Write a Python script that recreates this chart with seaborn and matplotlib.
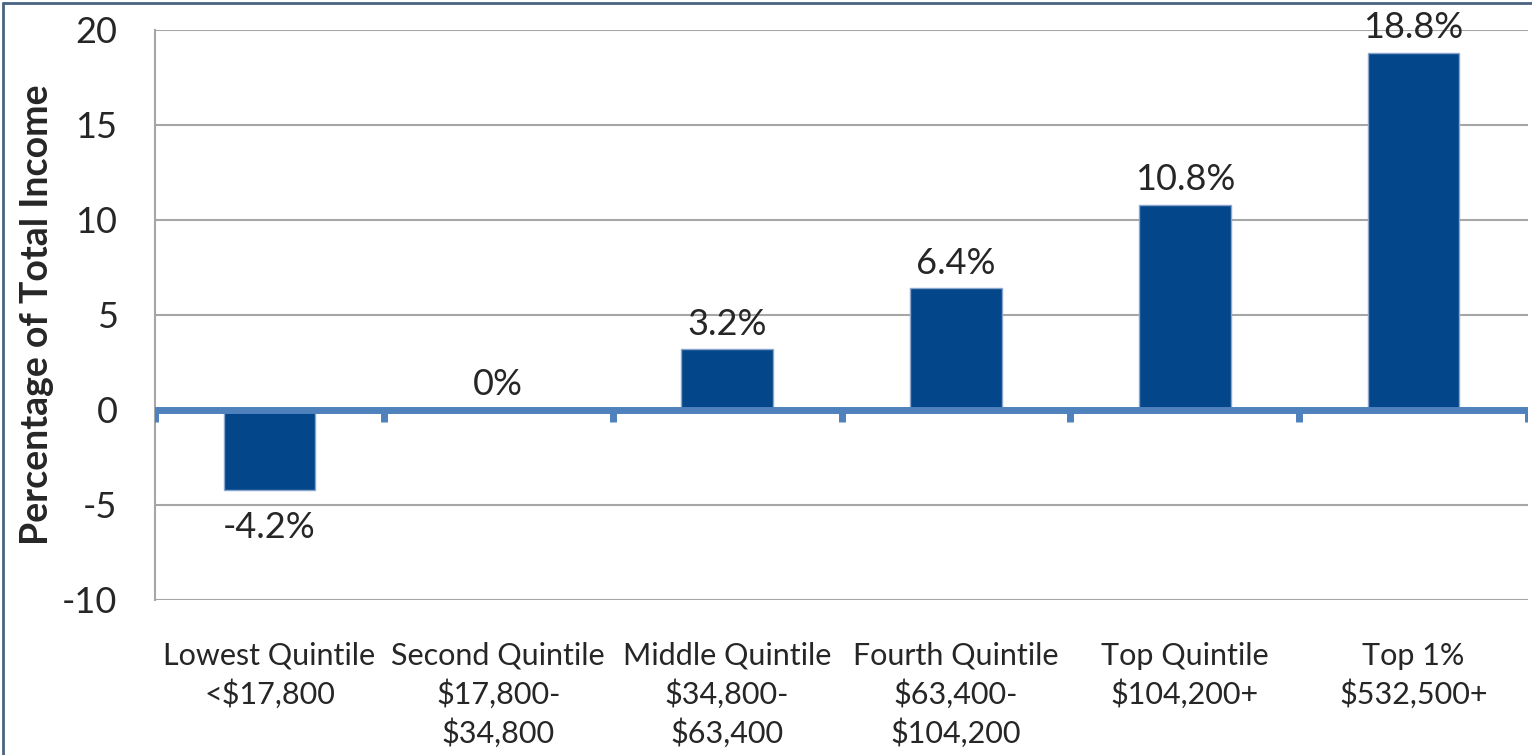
import numpy as np
import pandas as pd
import matplotlib
matplotlib.use("Agg")
import matplotlib.pyplot as plt
import seaborn as sns

categories = [
    "Lowest Quintile\n<$17,800",
    "Second Quintile\n$17,800-\n$34,800",
    "Middle Quintile\n$34,800-\n$63,400",
    "Fourth Quintile\n$63,400-\n$104,200",
    "Top Quintile\n$104,200+",
    "Top 1%\n$532,500+",
]
values = [-4.2, 0.0, 3.2, 6.4, 10.8, 18.8]
value_labels = ["-4.2%", "0%", "3.2%", "6.4%", "10.8%", "18.8%"]
y_ticks = [-10, -5, 0, 5, 10, 15, 20]

BAR = "#03468a"
ZERO = "#4f81bd"
GRID = "#a6a6a6"
FRAME = "#4a6382"

sns.set_style("white")
plt.rcParams["font.family"] = ["Lato", "DejaVu Sans"]
plt.rcParams["axes.unicode_minus"] = False

df = pd.DataFrame({"group": categories, "pct": values})

fig = plt.figure(figsize=(15.32, 7.55), dpi=100)
ax = fig.add_axes([0.1012, 0.2053, 0.8962, 0.755])

sns.barplot(data=df, x="group", y="pct", color=BAR, width=0.4,
            edgecolor="#8aa6cc", linewidth=1, saturation=1, ax=ax, zorder=3)

ax.set_xlim(-0.5, len(categories) - 0.5)
ax.set_ylim(-10, 20)
ax.set_yticks(y_ticks)
ax.yaxis.grid(True, color=GRID, linewidth=1.5)
ax.set_axisbelow(True)

for side in ["top", "right", "bottom"]:
    ax.spines[side].set_visible(False)
ax.spines["left"].set_color(GRID)
ax.spines["left"].set_linewidth(1.5)

ax.tick_params(axis="y", length=9, width=1.5, color=GRID, labelsize=26, pad=18)
ax.tick_params(axis="x", length=0, labelsize=22, pad=30)
for lbl in ax.get_xticklabels():
    lbl.set_linespacing(1.38)

# zero line with category boundary ticks
ax.axhline(0, color=ZERO, linewidth=5, zorder=4)
bounds = np.arange(len(categories) + 1) - 0.5
ax.vlines(bounds, -0.63, 0, color=ZERO, linewidth=5, zorder=4)

ax.set_xlabel("")
ax.set_ylabel("Percentage of Total Income", fontsize=27, fontweight="bold", labelpad=6)

for i, (v, t) in enumerate(zip(values, value_labels)):
    if v < 0:
        ax.text(i, v - 1.1, t, ha="center", va="top", fontsize=26, zorder=5)
    else:
        ax.text(i, v + 0.45, t, ha="center", va="bottom", fontsize=26, zorder=5)

# outer frame (top and left edges)
fig.add_artist(plt.Line2D([0.002, 0.002], [0, 0.996], transform=fig.transFigure,
                          color=FRAME, linewidth=2))
fig.add_artist(plt.Line2D([0.002, 1], [0.996, 0.996], transform=fig.transFigure,
                          color=FRAME, linewidth=2))

fig.savefig("out.png", dpi=100)
